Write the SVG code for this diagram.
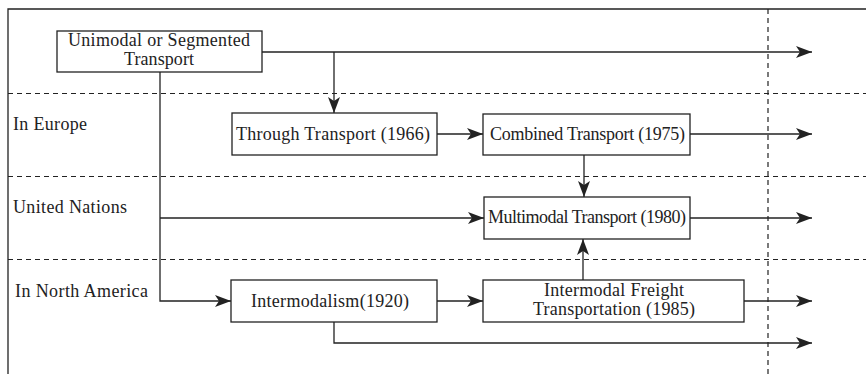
<svg xmlns="http://www.w3.org/2000/svg" width="866" height="374" viewBox="0 0 866 374">
  <style>
    .box { fill: #fff; stroke: #222; stroke-width: 1.3; }
    .t { font-family: "Liberation Serif", "Times New Roman", serif; font-size: 18px; fill: #222; }
    .c { text-anchor: middle; }
    .wire { fill: none; stroke: #222; stroke-width: 1.3; }
    .frame { fill: none; stroke: #222; stroke-width: 1.3; }
    .dash { fill: none; stroke: #222; stroke-width: 1.2; stroke-dasharray: 5 4; }
  </style>
  <defs>
    <marker id="arrow" markerUnits="userSpaceOnUse" markerWidth="16" markerHeight="12" refX="16" refY="6" orient="auto">
      <path d="M0,0 L16,6 L0,12 L4,6 Z" fill="#222"/>
    </marker>
  </defs>

  <!-- frame and lane dividers -->
  <g id="frame">
    <path class="frame" d="M866,9 H8 V374"/>
    <line class="dash" x1="8" y1="93.5" x2="866" y2="93.5"/>
    <line class="dash" x1="8" y1="176.5" x2="866" y2="176.5"/>
    <line class="dash" x1="8" y1="259.5" x2="866" y2="259.5"/>
    <line class="dash" x1="768" y1="9" x2="768" y2="374" stroke-dasharray="6 5"/>
  </g>

  <!-- lane labels -->
  <g id="lane-labels">
    <text class="t" x="13" y="130" textLength="74">In Europe</text>
    <text class="t" x="13" y="213" textLength="114">United Nations</text>
    <text class="t" x="15" y="297" textLength="133">In North America</text>
  </g>

  <!-- connectors -->
  <g id="connectors">
    <path class="wire" d="M262,52 H812" marker-end="url(#arrow)"/>
    <path class="wire" d="M334,52 V113" marker-end="url(#arrow)"/>
    <path class="wire" d="M160,72 V301 H231" marker-end="url(#arrow)"/>
    <path class="wire" d="M160,218 H484" marker-end="url(#arrow)"/>
    <path class="wire" d="M437,134 H483" marker-end="url(#arrow)"/>
    <path class="wire" d="M690,134 H812" marker-end="url(#arrow)"/>
    <path class="wire" d="M584,155 V197" marker-end="url(#arrow)"/>
    <path class="wire" d="M690,218 H812" marker-end="url(#arrow)"/>
    <path class="wire" d="M583,280 V239" marker-end="url(#arrow)"/>
    <path class="wire" d="M437,301 H483" marker-end="url(#arrow)"/>
    <path class="wire" d="M744,301 H812" marker-end="url(#arrow)"/>
    <path class="wire" d="M334,322 V343 H812" marker-end="url(#arrow)"/>
  </g>

  <!-- nodes -->
  <g id="unimodal">
    <rect class="box" x="57" y="31" width="205" height="41"/>
    <text class="t c" x="159" y="46" textLength="182">Unimodal or Segmented</text>
    <text class="t c" x="159" y="65" textLength="70">Transport</text>
  </g>
  <g id="through">
    <rect class="box" x="232" y="113" width="205" height="42"/>
    <text class="t c" x="333" y="140" textLength="194">Through Transport (1966)</text>
  </g>
  <g id="combined">
    <rect class="box" x="483" y="114" width="207" height="41"/>
    <text class="t c" x="587.5" y="139.5" textLength="195">Combined Transport (1975)</text>
  </g>
  <g id="multimodal">
    <rect class="box" x="484" y="197" width="206" height="42"/>
    <text class="t c" x="587" y="223" textLength="198">Multimodal Transport (1980)</text>
  </g>
  <g id="intermodalism">
    <rect class="box" x="231" y="280" width="206" height="42"/>
    <text class="t c" x="330" y="307" textLength="158">Intermodalism(1920)</text>
  </g>
  <g id="intermodal-freight">
    <rect class="box" x="483" y="280" width="261" height="42"/>
    <text class="t c" x="614" y="296" textLength="140">Intermodal Freight</text>
    <text class="t c" x="614" y="315" textLength="162">Transportation (1985)</text>
  </g>
</svg>
